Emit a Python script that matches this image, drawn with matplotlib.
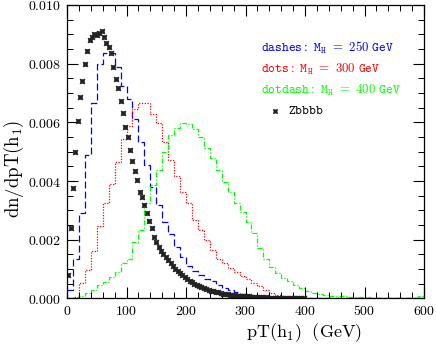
import numpy as np
import matplotlib
matplotlib.use('Agg')
import matplotlib.pyplot as plt
from matplotlib.ticker import MultipleLocator, FuncFormatter

plt.rcParams['mathtext.fontset'] = 'cm'
plt.rcParams['font.family'] = 'serif'
plt.rcParams['font.serif'] = ['DejaVu Serif']

# histogram bins, 10 GeV wide from 0 to 600
edges = np.arange(0, 610, 10)

# dashes: M_H = 250 GeV
mh250 = [0.0003, 0.00135, 0.0029, 0.0049, 0.00666, 0.0080, 0.00835, 0.00835, 0.0079, 0.00724,
         0.0068, 0.0061, 0.00534, 0.00455, 0.0038, 0.0032, 0.0026, 0.0022, 0.00175, 0.0014,
         0.0011, 0.00095, 0.0008, 0.00068, 0.00058, 0.00045, 0.00036, 0.00028, 0.00022, 0.00017,
         0.00013, 0.0001, 0.00008, 0.00006, 0.00005, 0.00004, 0.00003, 0.00002, 0.00002, 0.00001,
         0, 0, 0, 0, 0, 0, 0, 0, 0, 0,
         0, 0, 0, 0, 0, 0, 0, 0, 0, 0]

# dots: M_H = 300 GeV
mh300 = [0.0, 0.00006, 0.00054, 0.00097, 0.00163, 0.00247, 0.00326, 0.00389, 0.00466, 0.00542,
         0.00588, 0.00645, 0.00665, 0.00665, 0.0063, 0.00597, 0.00534, 0.00472, 0.00417, 0.00364,
         0.00324, 0.00267, 0.00233, 0.002, 0.00165, 0.00134, 0.0012, 0.00103, 0.00091, 0.00077,
         0.00065, 0.00054, 0.00043, 0.00029, 0.0002, 0.00012, 0.00008, 0.00006, 0.00004, 0.00002,
         0, 0, 0, 0, 0, 0, 0, 0, 0, 0,
         0, 0, 0, 0, 0, 0, 0, 0, 0, 0]

# dotdash: M_H = 400 GeV
mh400 = [0.00002, 0.00003, 0.00008, 0.00018, 0.00029, 0.00046, 0.00057, 0.00072, 0.00091, 0.0012,
         0.00135, 0.00194, 0.00233, 0.00324, 0.00387, 0.00438, 0.005, 0.00557, 0.00582, 0.00599,
         0.00594, 0.00577, 0.00551, 0.00512, 0.00478, 0.00438, 0.00398, 0.00364, 0.00324, 0.00296,
         0.0026, 0.00224, 0.00171, 0.00134, 0.00108, 0.00086, 0.0007, 0.00058, 0.00046, 0.00035,
         0.00025, 0.00018, 0.00014, 0.00011, 0.0001, 0.00008, 0.00007, 0.00006, 0.00005, 0.00004,
         0.00004, 0.00003, 0.00003, 0.00003, 0.00003, 0.00002, 0.00002, 0.00002, 0.00003, 0.00008]

# Zbbbb background, 4 GeV bins from 0 to 400
zb_pt = np.arange(2, 400, 4)
zbbbb = [0.0008, 0.0024, 0.00375, 0.0050, 0.00605, 0.00685, 0.0074, 0.0080, 0.00844, 0.0088,
         0.00892, 0.0090, 0.00898, 0.00906, 0.0091, 0.0089, 0.0087, 0.00858, 0.00837, 0.0079,
         0.00748, 0.00716, 0.00673, 0.00631, 0.00585, 0.00551, 0.00506, 0.00468, 0.00435, 0.00404,
         0.00364, 0.00347, 0.00319, 0.0029, 0.00265, 0.00241, 0.0021, 0.00193, 0.00176, 0.00163,
         0.00152, 0.0014, 0.0013, 0.0012, 0.0011, 0.00102, 0.00094, 0.00086, 0.00079, 0.00072,
         0.00066, 0.0006, 0.00055, 0.0005, 0.00046, 0.00042, 0.00038, 0.00035, 0.00032, 0.00029,
         0.00027, 0.00025, 0.00023, 0.00021, 0.00019, 0.00017, 0.00016, 0.00015, 0.00013, 0.00012,
         0.00011, 0.0001, 0.00009, 0.00009, 0.00008, 0.00007, 0.00007, 0.00006, 0.00006, 0.00005,
         0.00005, 0.00004, 0.00004, 0.00004, 0.00003, 0.00003, 0.00003, 0.00003, 0.00002, 0.00002,
         0.00002, 0.00002, 0.00002, 0.00001, 0.00001, 0.00001, 0.00001, 0.00001, 0.00001, 0.00001]

fig = plt.figure(figsize=(4.36, 3.46), dpi=100)
ax = fig.add_axes([0.1537, 0.1373, 0.8188, 0.8483])

ax.stairs(mh250, edges, baseline=None, color='#0000ff', linewidth=0.9, linestyle=(0, (5.5, 2.5)))
ax.stairs(mh300, edges, baseline=None, color='#ff0000', linewidth=0.9, linestyle=(0, (1, 1.2)))
ax.stairs(mh400, edges, baseline=None, color='#00ff00', linewidth=0.9, linestyle=(0, (4, 1.5, 1, 1.5)))
ax.plot(zb_pt, zbbbb, linestyle='none', marker=(4, 1, 45), markersize=5,
        color='#222222', markeredgewidth=0.5)

ax.set_xlim(0, 600)
ax.set_ylim(0, 0.010)

ax.xaxis.set_major_locator(MultipleLocator(100))
ax.xaxis.set_minor_locator(MultipleLocator(20))
ax.yaxis.set_major_locator(MultipleLocator(0.002))
ax.yaxis.set_minor_locator(MultipleLocator(0.0005))
ax.xaxis.set_major_formatter(FuncFormatter(lambda v, p: f'${v:.0f}$'))
ax.yaxis.set_major_formatter(FuncFormatter(lambda v, p: f'${v:.3f}$'))

ax.tick_params(axis='both', which='major', direction='in', length=8, width=0.8,
               labelsize=10, top=True, right=True, pad=4)
ax.tick_params(axis='both', which='minor', direction='in', length=4, width=0.7,
               top=True, right=True)
for s in ax.spines.values():
    s.set_linewidth(0.9)

ax.text(0.664, -0.118, r'$\mathrm{pT(h_1)\ \ (GeV)}$', transform=ax.transAxes,
        ha='center', va='center', fontsize=13)
ax.text(-0.148, 0.44, r'$\mathrm{dn/dpT(h_1)}$', transform=ax.transAxes,
        ha='center', va='center', rotation=90, fontsize=13.5)

# key
ax.text(326, 0.00853, r'$\mathtt{dashes:\ M_H\ =\ 250\ GeV}$', color='#0000ff',
        fontsize=9.3, va='center')
ax.text(326, 0.00782, r'$\mathtt{dots:\ M_H\ =\ 300\ GeV}$', color='#ff0000',
        fontsize=9.3, va='center')
ax.text(326, 0.0071, r'$\mathtt{dotdash:\ M_H\ =\ 400\ GeV}$', color='#00ff00',
        fontsize=9.3, va='center')
ax.plot([350], [0.00639], linestyle='none', marker=(4, 1, 45), markersize=4.5,
        color='#222222', markeredgewidth=0.4)
ax.text(371, 0.00639, r'$\mathtt{Zbbbb}$', color='black', fontsize=9.3, va='center')

fig.savefig('out.png', dpi=100)
